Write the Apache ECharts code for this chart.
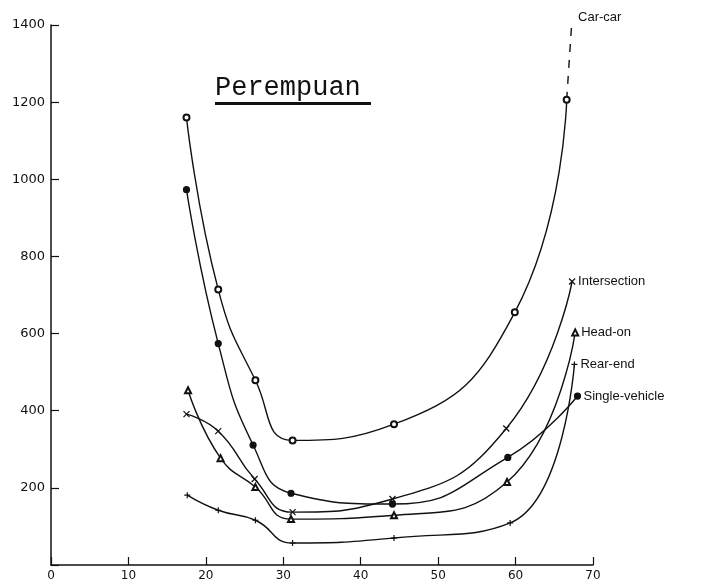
<!DOCTYPE html>
<html>
<head>
<meta charset="utf-8">
<script src="https://cdn.jsdelivr.net/npm/echarts@6/dist/echarts.min.js"></script>
<style>
html,body{margin:0;padding:0;background:#fff;}
#chart{width:709px;height:582px;}
</style>
</head>
<body>
<div id="chart"></div>
<script>
// ---- data ----
var xTicks = [0, 10, 20, 30, 40, 50, 60, 70];
var yTicks = [0, 200, 400, 600, 800, 1000, 1200, 1400];

var ageCarCar = [17.5, 21.6, 26.4, 31.2, 44.3, 59.9, 66.6];
var valCarCar = [1160, 714, 479, 323, 365, 655, 1206];
var ageCarCarDash = [66.6, 67.3];
var valCarCarDash = [1206, 1420];

var ageIntersection = [17.5, 21.6, 26.3, 31.2, 44.1, 58.8, 67.3];
var valIntersection = [391, 347, 223, 137, 171, 354, 735];

var ageHeadOn = [17.7, 21.9, 26.4, 31.0, 44.3, 58.9, 67.7];
var valHeadOn = [453, 277, 202, 119, 129, 215, 603];

var ageRearEnd = [17.6, 21.6, 26.4, 31.2, 44.3, 59.3, 67.6];
var valRearEnd = [181, 142, 116, 57, 70, 109, 520];

var ageSingle = [17.5, 21.6, 26.1, 31.0, 44.1, 59.0, 68.0];
var valSingle = [973, 574, 311, 186, 158, 279, 438];

var titleText = 'Perempuan';

function pairs(xs, ys) { return xs.map(function (x, i) { return [x, ys[i]]; }); }

var ink = '#111';

function lineSeries(name, xs, ys, symbol, opts) {
  var s = {
    name: name,
    type: 'line',
    data: pairs(xs, ys),
    smooth: 0.5,
    symbol: symbol,
    symbolSize: 6,
    showAllSymbol: true,
    lineStyle: { color: ink, width: 1.4 },
    itemStyle: { color: ink, borderColor: ink, borderWidth: 1.2 },
    endLabel: {
      show: true,
      formatter: name,
      color: ink,
      fontSize: 13,
      fontFamily: 'Liberation Sans, Arial, sans-serif',
      distance: 6
    },
    z: 3
  };
  if (opts) { for (var k in opts) s[k] = opts[k]; }
  return s;
}

var chart = echarts.init(document.getElementById('chart'), null, { renderer: 'canvas' });

var carData = pairs(ageCarCar, valCarCar);
// hide symbol at the solid/dashed break point
carData[carData.length - 1] = { value: carData[carData.length - 1], symbol: 'none' };

chart.setOption({
  backgroundColor: '#fff',
  animation: false,
  grid: { left: 51, right: 116, top: 25, bottom: 16 },
  xAxis: {
    type: 'value', min: 0, max: 70, interval: 10,
    axisLine: { show: true, lineStyle: { color: ink, width: 1.5 } },
    axisTick: { show: true, inside: true, length: 8, lineStyle: { color: ink, width: 1.2 } },
    axisLabel: { color: ink, fontSize: 12, fontFamily: 'DejaVu Sans, sans-serif', margin: 5,
      formatter: function (v) { return xTicks.indexOf(v) >= 0 ? String(v) : ''; } },
    splitLine: { show: false }
  },
  yAxis: {
    type: 'value', min: 0, max: 1400, interval: 200,
    axisLine: { show: true, lineStyle: { color: ink, width: 1.5 } },
    axisTick: { show: true, inside: true, length: 8, lineStyle: { color: ink, width: 1.2 } },
    axisLabel: { color: ink, fontSize: 13, fontFamily: 'DejaVu Sans, sans-serif', margin: 6,
      formatter: function (v) { return (v === 0 || yTicks.indexOf(v) < 0) ? '' : String(v); } },
    splitLine: { show: false }
  },
  graphic: [
    { type: 'text', left: 215, top: 74,
      style: { text: titleText, fill: ink, font: '27px "Liberation Mono", "DejaVu Sans Mono", monospace' } },
    { type: 'rect', shape: { x: 215, y: 102, width: 156, height: 3 }, style: { fill: ink } }
  ],
  series: [
    lineSeries('Car-car', ageCarCar, valCarCar, 'emptyCircle', { data: carData, endLabel: { show: false } }),
    lineSeries('Car-car', ageCarCarDash, valCarCarDash, 'emptyCircle', {
      smooth: false,
      lineStyle: { color: ink, width: 1.4, type: [8, 8] }
    }),
    lineSeries('Intersection', ageIntersection, valIntersection, 'path://M0,0 L10,10 M10,0 L0,10'),
    lineSeries('Head-on', ageHeadOn, valHeadOn, 'emptyTriangle'),
    lineSeries('Rear-end', ageRearEnd, valRearEnd, 'path://M5,0 L5,10 M0,5 L10,5'),
    lineSeries('Single-vehicle', ageSingle, valSingle, 'circle')
  ]
});
</script>
</body>
</html>
